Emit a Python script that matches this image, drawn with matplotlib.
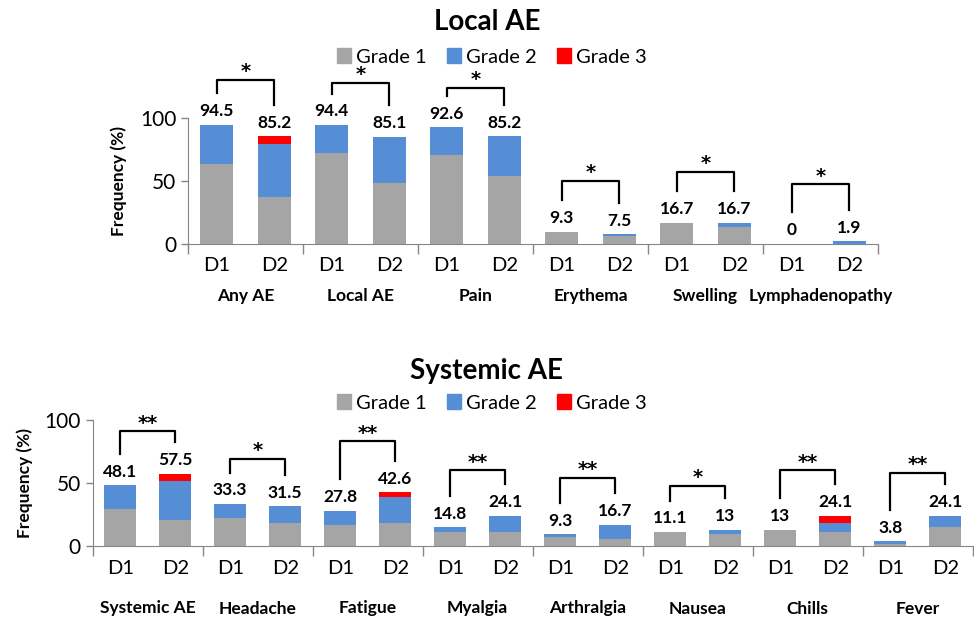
import numpy as np
import matplotlib
matplotlib.use('Agg')
import matplotlib.pyplot as plt
from matplotlib.patches import Patch

plt.rcParams['font.family'] = ['Lato', 'DejaVu Sans']

# ---- data: local AE (D1, D2 per category) ----
local_cats = ['Any AE', 'Local AE', 'Pain', 'Erythema', 'Swelling', 'Lymphadenopathy']
local_g1 = [63.0, 37.0, 72.2, 48.1, 70.4, 53.7, 9.3, 5.6, 16.7, 13.0, 0, 0]
local_g2 = [31.5, 42.6, 22.2, 37.0, 22.2, 31.5, 0, 1.9, 0, 3.7, 0, 1.9]
local_g3 = [0, 5.6, 0, 0, 0, 0, 0, 0, 0, 0, 0, 0]
local_total = [94.5, 85.2, 94.4, 85.1, 92.6, 85.2, 9.3, 7.5, 16.7, 16.7, 0, 1.9]
local_sig = ['*', '*', '*', '*', '*', '*']

# ---- data: systemic AE ----
sys_cats = ['Systemic AE', 'Headache', 'Fatigue', 'Myalgia', 'Arthralgia', 'Nausea', 'Chills', 'Fever']
sys_g1 = [29.6, 20.4, 22.2, 18.5, 16.7, 18.5, 11.1, 11.1, 7.4, 5.6, 11.1, 9.3, 13.0, 11.1, 1.9, 14.8]
sys_g2 = [18.5, 31.5, 11.1, 13.0, 11.1, 20.4, 3.7, 13.0, 1.9, 11.1, 0, 3.7, 0, 7.4, 1.9, 9.3]
sys_g3 = [0, 5.6, 0, 0, 0, 3.7, 0, 0, 0, 0, 0, 0, 0, 5.6, 0, 0]
sys_total = [48.1, 57.5, 33.3, 31.5, 27.8, 42.6, 14.8, 24.1, 9.3, 16.7, 11.1, 13, 13, 24.1, 3.8, 24.1]
sys_sig = ['**', '*', '**', '**', '**', '*', '**', '**']

doses = ['D1', 'D2']
grades = ['Grade 1', 'Grade 2', 'Grade 3']
colors = ['#A5A5A5', '#558ED5', '#FF0000']

# bracket heights (layout, data units)
local_bracket = [130, 128, 124, 50, 57, 47]
sys_bracket = [91, 69, 83, 60, 54, 48, 60, 58]


def draw_panel(ax, cats, g1, g2, g3, totals, sig, brk, ymax, cat_off, lab_x):
    n = len(cats)
    x = np.arange(2 * n)
    g1 = np.array(g1); g2 = np.array(g2); g3 = np.array(g3)
    w = 0.58
    ax.bar(x, g1, w, color=colors[0], zorder=2)
    ax.bar(x, g2, w, bottom=g1, color=colors[1], zorder=2)
    ax.bar(x, g3, w, bottom=g1 + g2, color=colors[2], zorder=2)

    for xi, t in zip(x, totals):
        ax.annotate(f'{t:g}', (xi, t), xytext=(0, 4), textcoords='offset points',
                    ha='center', va='bottom', fontsize=12.5, fontweight='bold')

    for i in range(n):
        a, b = 2 * i, 2 * i + 1
        top = brk[i]
        ax.plot([a, a, b, b], [totals[a] + 25, top, top, totals[b] + 25],
                color='black', lw=1.6, zorder=3, clip_on=False)
        ax.annotate(sig[i], ((a + b) / 2, top), xytext=(0, 2), textcoords='offset points',
                    ha='center', va='baseline', fontsize=14, fontweight='bold',
                    family='DejaVu Sans')
        ax.annotate(cats[i], ((a + b) / 2, 0), xycoords=('data', 'axes fraction'),
                    xytext=(0, -cat_off), textcoords='offset points',
                    ha='center', va='center', fontsize=12.5, fontweight='bold')

    ax.set_xlim(-0.5, 2 * n - 0.5)
    ax.set_ylim(0, ymax)
    ax.set_xticks(x, doses * n, fontsize=14.5)
    ax.set_xticks(np.arange(-0.5, 2 * n, 2), minor=True)
    ax.tick_params(axis='x', which='major', length=0, pad=10)
    ax.tick_params(axis='x', which='minor', length=7, color='#868686', width=1)
    ax.set_yticks([0, 50, 100])
    ax.tick_params(axis='y', labelsize=15, length=5, color='#868686', width=1)
    for s in ['top', 'right']:
        ax.spines[s].set_visible(False)
    ax.spines['left'].set_bounds(0, 100)
    ax.spines['left'].set_color('#868686')
    ax.spines['bottom'].set_color('#868686')
    ax.set_ylabel('Frequency (%)', fontsize=12.5, fontweight='bold')
    ax.yaxis.set_label_coords(lab_x, 50 / ymax)


fig = plt.figure(figsize=(9.74, 6.21), dpi=100)

ax1 = fig.add_axes([188 / 974, 1 - 243.5 / 621, 690 / 974, 150 * 1.256 / 621])
draw_panel(ax1, local_cats, local_g1, local_g2, local_g3, local_total,
           local_sig, local_bracket, 150, 38, -0.088)

ax2 = fig.add_axes([92.7 / 974, 1 - 546 / 621, 880 / 974, 110 * 1.26 / 621])
draw_panel(ax2, sys_cats, sys_g1, sys_g2, sys_g3, sys_total,
           sys_sig, sys_bracket, 110, 45, -0.068)

handles = [Patch(color=c) for c in colors]
for ycen, title, ytit in [(57, 'Local AE', 22), (403, 'Systemic AE', 371)]:
    fig.text(0.5, 1 - ytit / 621, title, ha='center', va='center',
             fontsize=20, fontweight='bold')
    fig.legend(handles, grades, loc='center', bbox_to_anchor=(0.505, 1 - ycen / 621),
               ncol=3, frameon=False, fontsize=14.5, handlelength=0.7,
               handleheight=0.7, handletextpad=0.25, columnspacing=1.0)

fig.savefig('out.png', dpi=100)
